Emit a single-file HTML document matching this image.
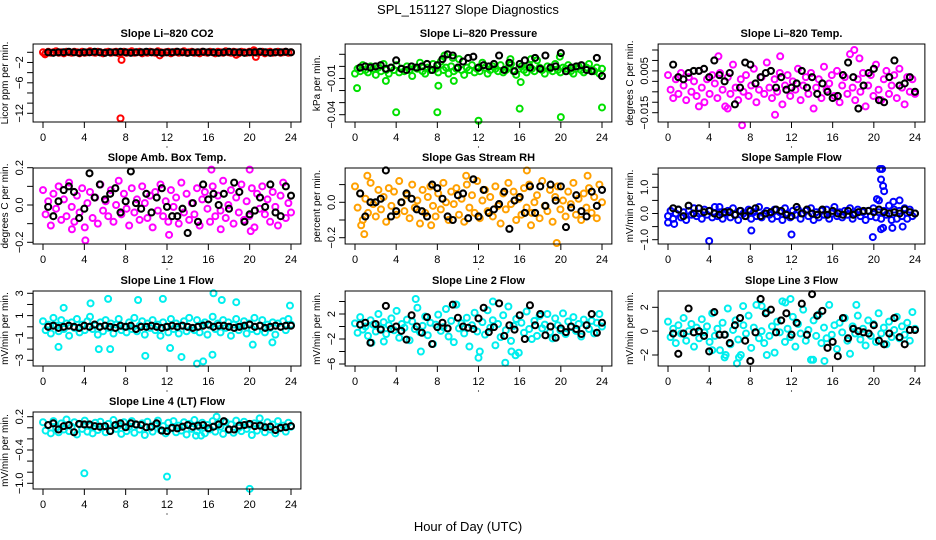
<!DOCTYPE html>
<html><head><meta charset="utf-8">
<style>
html,body{margin:0;padding:0;background:#fff;}
svg{display:block;font-family:"Liberation Sans",sans-serif;}
</style></head>
<body>
<svg id="chart" width="936" height="540" viewBox="0 0 936 540" xmlns="http://www.w3.org/2000/svg">
<rect width="936" height="540" fill="#fff"/>
<text x="468" y="14" text-anchor="middle" font-size="13">SPL_151127  Slope Diagnostics</text>
<text x="468" y="531" text-anchor="middle" font-size="13">Hour of Day (UTC)</text>
</svg>
<script>
const xTicks=[0,4,8,12,16,20,24];
const co2Vals=[0,-.2,.1,-.1,0,.2,-.1,0,-.2,.1,0,-.1,.1,0,-.2,.1,-.1,0,.2,0,-.1,.1,0,-.2,0,.1,-.1,0,.1,-.2,0,.1,-.1,0,.2,-.1,0,.1,-.2,0,-.1,.1,0,-.1,.2,0,-.1,0,.1,-.2,0,.1,-.1,0,.2,-.1,0,.1,-.1,0,-.2,.1,0,-.1,.1,0,-.2,.1,0,-.1,.2,0,-.1,.1,0,-.2,.1,0,-.1,.1,0,.3,-.1,0,.1,-.2,0,.1,-.1,0,.1,-.1,0,.1,-.1,0];
const co2Out=[[7.6,-1.5],[7.5,-13],[20.6,-0.9],[20.4,0.4],[11.3,-0.6],[18.7,-0.5],[0.2,-0.4]];
const co2Blk=[0,-.1,0,0,.1,0,-.1,0,0,.1,0,-.1,0,0,.1,0,-.1,0,0,.1,0,0,-.1,0,0,.1,0,-.1,0,0,.1,0,0,-.1,0,.1,0,0,-.1,0,0,.1,0,-.1,0,0,.1,0];
const presVals=[-.006,-.002,-.004,.001,-.003,-.005,0,-.002,-.007,-.001,-.004,.002,-.003,-.006,-.001,-.003,.001,-.005,-.002,-.004,0,-.003,-.008,-.001,-.002,.003,-.004,-.006,-.001,-.003,.002,-.002,-.005,.004,-.003,-.001,-.006,0,-.004,-.002,.006,-.003,-.007,-.001,-.003,.001,-.005,-.002,-.004,.003,-.001,-.006,-.003,0,-.002,-.004,.001,-.005,-.003,-.001,.002,-.004,-.007,-.002,0,-.003,-.005,.001,-.002,-.004,.005,-.001,-.003,-.006,0,-.002,-.004,.002,-.003,-.005,-.001,-.002,.001,-.004,-.006,-.002,0,-.003,-.005,-.001,.002,-.003,-.004,-.001,-.006,-.002];
const presOut=[[0.2,-.018],[4,-.038],[8,-.038],[12,-.045],[16,-.035],[20,-.042],[24,-.034],[8.1,-.016],[9.6,-.012],[3,-.012],[8.7,.009],[9.5,.007],[15.1,.006],[17.1,.006],[19.9,.008],[16.1,-.013]];
const presBlk=[-.001,0,-.001,0,.001,-.002,-.001,.005,-.002,-.003,0,-.001,0,.002,-.003,.001,.006,.010,.009,-.001,.004,.007,.008,-.001,.001,0,.002,.009,-.003,.003,-.004,.002,.005,-.001,.007,-.002,.009,-.001,0,.011,-.004,-.001,0,.001,-.003,-.004,.007,-.008];
const tempVals=[.003,-.004,-.008,.001,-.006,.004,-.002,-.009,.002,-.005,0,-.007,.005,-.003,-.010,.001,-.006,.003,-.001,-.008,.004,-.004,-.012,.002,-.006,.008,-.003,-.009,.001,-.005,.003,-.007,-.002,.006,-.010,-.004,.002,-.006,.009,-.003,-.008,.001,-.005,.004,-.011,-.002,.003,-.007,0,-.004,.006,-.009,-.002,.002,-.006,.004,-.013,-.003,.001,-.008,.007,-.004,-.001,.003,-.007,.005,-.010,-.002,.002,-.006,.013,-.003,-.009,.001,-.005,.004,-.012,-.002,.003,-.007,.008,-.004,-.009,.001,.005,-.006,-.002,.003,-.008,.006,-.003,-.011,.002,-.005,.001,-.006];
const tempOut=[[4.9,.012],[7.2,-.021],[18.1,.015],[10.4,-.016],[5.8,-.013],[18.6,.011],[10.9,.012],[3,-.012]];
const tempBlk=[.008,.002,.001,.004,.005,.005,.006,.002,.010,.003,0,.004,-.011,-.003,.009,.008,-.001,.002,.004,.005,-.003,.002,-.004,-.003,-.001,.005,-.003,.002,-.006,-.001,-.005,-.008,-.007,.003,.009,.002,-.013,-.002,.004,.006,-.009,-.010,.002,.010,-.002,-.001,.002,-.005];
const ambVals=[.08,-.05,.02,-.11,.06,-.02,.10,-.08,.03,-.06,.12,-.01,-.09,.05,-.04,.09,-.12,.01,.07,-.07,.04,-.10,.11,-.03,.02,-.06,.08,-.09,0,.13,-.05,.06,-.02,-.11,.09,-.04,.03,-.08,.10,.01,-.07,.05,-.12,.07,-.03,.11,-.06,.02,-.09,.08,-.01,.04,-.10,.12,-.04,.06,-.08,.01,-.05,.09,-.11,.03,.07,-.02,-.09,.10,-.06,.05,-.03,.13,-.07,0,.08,-.10,.04,-.04,.11,-.08,.02,-.06,.09,-.12,.06,-.02,.10,-.05,.03,-.09,.07,-.01,-.11,.05,.12,-.07,.01,-.04];
const ambOut=[[4.1,-.19],[16.3,.19],[20,.19],[20.1,-.14],[12.2,-.16],[2.8,-.13],[17.2,-.13]];
const ambBlk=[-.01,-.06,.02,.08,.10,.07,-.07,-.02,.17,.04,.11,.03,.06,.09,-.04,.02,.18,.01,-.02,.06,-.04,.04,.09,-.01,-.06,-.06,-.02,-.15,.01,-.09,.11,.03,.06,0,.06,-.02,.12,.07,-.09,-.05,-.03,.04,-.01,.11,-.04,-.06,.10,.05];
const rhVals=[.09,-.03,.05,-.10,.02,-.06,.11,-.01,-.08,.07,-.04,.03,-.11,.08,-.02,.06,-.07,.12,0,-.05,.04,-.09,.10,-.03,.01,-.12,.07,-.06,.03,.09,-.02,-.08,.05,-.04,.11,0,-.10,.06,-.01,.08,-.07,.02,-.11,.10,-.03,.04,-.06,.12,-.09,.01,.07,-.05,.03,-.08,.09,-.02,-.12,.05,-.04,.11,-.01,.06,-.10,.02,-.07,.08,-.03,.10,-.06,0,.04,-.09,.12,-.02,-.05,.07,-.11,.03,.09,-.04,.01,-.08,.06,-.01,.11,-.07,.02,-.10,.05,-.03,.08,-.06,.03,-.09,.10,0];
const rhOut=[[0.9,-.18],[0.6,-.13],[1.2,.15],[10.8,.15],[16.7,.18],[17.1,-.13],[19.6,-.23],[22.6,.15],[7.4,-.13]];
const rhBlk=[.05,-.08,0,0,.02,.18,-.08,-.05,0,.05,.02,-.04,-.05,-.08,.10,.08,.02,-.08,-.10,.04,.05,-.09,.13,-.08,.07,-.06,-.04,-.01,.06,-.15,.01,.03,-.06,.09,-.06,.09,-.02,.10,.01,.09,-.14,-.03,.04,-.05,-.08,.06,-.02,.07];
const flowVals=[-.1,.1,-.2,0,.15,-.15,.05,-.25,.1,-.05,.2,-.1,0,-.2,.15,-.05,.1,-.15,.25,-.1,.05,-.2,0,.1,-.15,.2,-.05,-.25,.1,0,-.1,.15,-.2,.05,-.1,.25,-.15,0,.1,-.05,-.2,.15,-.1,.05,-.25,.2,0,-.15,.1,-.05,.15,-.2,0,.1,-.1,.2,-.25,.05,-.15,.1,-.05,.15,-.2,0,.25,-.1,.05,-.15,.1,-.05,.2,-.2,0,.15,-.1,.05,-.25,.1,-.1,.2,-.15,.05,-.2,.1,-.05,.3,-.25,.15,-.2,.1,-.1,.2,-.2,.15,-.1,0];
const flowOut=[[20.3,.55],[20.5,.5],[20.6,1.7],[20.8,1.7],[20.7,1.3],[20.9,1.05],[21,.85],[20.7,-.6],[20.9,-.55],[21.9,.45],[22.5,.5],[22.8,-.5],[21.8,-.55],[0,-.35],[0.6,-.4],[4,-1.05],[8.1,-.65],[12,-.8],[19.9,-.9],[5,.25]];
const flowBlk=[.2,.15,-.1,.3,0,.2,.05,.1,0,-.05,.05,.05,-.05,.1,-.1,.1,.2,-.1,0,.05,.15,.1,-.05,-.1,.25,0,.15,0,-.05,.15,-.05,.1,0,-.05,.1,-.05,.05,.1,.1,.05,.15,.05,0,.05,0,.15,.05,0];
const l1Vals=[.5,-.3,.2,-.6,.8,.1,-.4,.6,-.2,.3,-.8,.4,-.1,.7,-.5,.2,-.3,.5,.9,-.2,.1,-.7,.4,-.4,.6,-.1,.3,-.6,.2,.7,-.3,0,-.5,.4,-.2,.8,-.4,.1,.5,-.7,.3,-.1,.6,-.3,.2,-.8,.4,0,-.5,.7,-.2,.3,-.6,.1,.5,-.4,.8,-.1,-.3,.6,-.5,.2,.4,-.7,.1,.9,-.2,.3,-.5,.6,-.1,.4,-.8,.2,.7,-.3,0,.5,-.6,.3,-.2,.8,-.4,.1,.6,-.5,.2,-.1,.4,-.7,.3,0,.5,-.3,.7,.2];
const l1Out=[[1.5,-1.8],[2,1.7],[4.6,2.1],[6.3,2.5],[9.2,2.4],[9.9,-2.6],[11.6,2.5],[12.3,-1.9],[13.4,-2.7],[14.9,-3.3],[15.5,-3.1],[16.5,3],[16.4,-2.5],[17.3,2.4],[18.7,2.2],[23.9,1.9],[5.4,-2],[6.5,-2],[20.3,-1.6],[22.2,-1.4]];
const l1Blk=[0,.1,-.1,0,.1,0,-.1,.1,0,.2,0,.1,0,-.1,.1,0,.1,-.2,0,0,.1,0,-.1,0,.1,0,.1,0,-.1,0,.1,.2,0,.1,.1,0,-.1,0,.1,.2,0,.1,-.1,0,.1,0,.1,.1];
const l2Vals=[.5,-1,1.5,-.5,0,-1.5,1,.3,-.8,2,-.3,.7,-1.2,.2,1.3,-.6,2.5,-1.8,.4,-.2,1.1,-2.2,.8,-.4,3,-.9,.1,1.6,-1.4,.6,-2.8,.3,1.9,-.7,-.1,2.8,-1.6,.9,-2.5,3.5,-.3,.5,-1.1,1.4,-3.2,.2,2.2,-.8,-4,.7,-1.3,2.6,-.2,1,-3,.4,-1.7,1.8,-.6,3.2,-2.3,.1,1.2,-4.2,.6,-1,2.4,-.4,-2,.9,-1.5,1.7,-.3,.3,2,-.9,-1.9,1.3,.2,-.6,2.1,-1.2,.8,-.1,1.5,-.7,.4,-1.6,1.1,.2,-.4,.9,-1.1,.6,2,0];
const l2Out=[[6.4,-4],[12,-5],[14.6,-5.8],[15.2,-4],[15.6,-4.6],[13.4,4],[9.8,3.5],[5.9,4.4],[2.8,-2.4],[1.6,-2.6]];
const l2Blk=[.3,.6,-2.6,.4,-.5,3.3,-.4,0,-.7,-2.1,1.8,0,-1,1.5,-2.8,-.1,.6,-.3,3.5,1.4,0,-.2,-.4,1.3,3,-.9,-.1,3.7,-1.5,.2,-.5,1.8,-2,3.4,.2,2,-1.4,0,-1.8,-.3,-.9,0,-.4,-1.2,.2,2,-1,.6];
const l3Vals=[.8,-.5,.2,-1,.5,-.2,1.1,-.8,0,.6,-1.3,.3,-.6,1,-.1,.4,-.9,1.5,-.4,.2,-1.6,.7,-.3,1.9,-1.1,.1,.9,-.7,-2,.5,-.2,1.3,-1.4,.3,2.2,-.6,0,-1,1.6,-.4,.4,-1.8,.8,-.1,2.5,-.9,.2,-.5,1.2,-1.3,.6,-.2,1.8,-.8,.1,-2.4,.9,-.4,1.4,-1,.3,-.6,2.2,-.3,.5,-1.5,.7,-.1,1.1,-.8,-1.9,.4,-.2,1.3,-.7,.2,-1.2,.9,-.4,.6,-.9,1.5,-.2,.3,-1.1,.8,-.5,.1,1.2,-.6,.4,-.3,.7,-.8,1.6,.2];
const l3Out=[[4.3,-1.6],[5.6,-2],[5.5,-2.2],[6.9,-2.2],[6.7,-2.7],[7.3,2.1],[9.1,2.1],[9.6,-2],[11.4,2.4],[11.9,2.7],[15.2,-2.5],[14.1,-2.4],[18.3,2.2]];
const l3Blk=[-.2,-1.9,-.2,1.9,-.1,0,-.4,-1.7,1.6,-.3,-.3,-1,.5,1.1,-.8,-2.5,-.1,2.7,1.5,1.8,-.1,.9,1.5,-.3,.7,2.3,-.3,3.1,1.3,1.7,-1.4,-.9,-2.1,1.1,-.6,.2,0,-.1,-.2,.5,-.8,-1.1,-.2,1.1,-.5,-1.1,.1,.1];
const l4Vals=[.1,-.05,.05,-.1,.12,0,-.08,.08,-.03,.15,-.06,.02,.1,-.12,.06,-.02,.13,-.07,.03,-.1,.09,-.04,.11,.01,-.08,.07,-.05,.14,-.02,.04,-.11,.1,-.06,.02,.12,-.09,.05,-.03,.08,-.13,.11,0,-.07,.06,.13,-.04,.03,-.1,.09,-.01,.12,-.08,.04,-.05,.1,-.12,.07,-.02,.14,-.06,.01,.09,-.1,.05,-.03,.12,-.07,.08,.02,-.11,.1,-.04,.06,-.09,.13,0,-.06,.11,-.02,.05,-.13,.08,-.05,.17,.03,-.08,.1,-.03,.06,-.1,.12,-.01,.04,-.07,.09,.02];
const l4Out=[[4,-.82],[12,-.88],[20,-1.1],[16.8,.2],[14.8,-.14],[15.3,-.14]];
const l4Blk=[.05,.08,-.03,.03,.05,-.08,.07,.06,.06,.03,.02,.03,-.06,.05,.08,.01,.08,.06,.05,.01,.02,.08,-.05,-.06,0,-.01,.02,.05,.02,.04,.05,-.01,.02,.06,.12,-.03,-.03,.04,.05,.07,.03,.04,.01,.02,-.04,0,.01,.03];

const NS="http://www.w3.org/2000/svg";
const svg=document.getElementById('chart');
const cols=[[43,291],[355,602],[668,915]];
const rows=[[44,122],[168,244],[291,366],[412,489]];
const panels=[
 {name:'co2',title:'Slope Li\u2013820 CO2',ylab:'Licor ppm per min.',c:0,r:0,col:'#ff0000',v:co2Vals,o:co2Out,b:co2Blk,y1:[0,52.3],y2:[-12,113.3],ticks:[0,-2,-4,-6,-8,-10,-12],labs:[-2,-6,-12],dec:0},
 {name:'pressure',title:'Slope Li\u2013820 Pressure',ylab:'kPa per min.',c:1,r:0,col:'#00e000',v:presVals,o:presOut,b:presBlk,y1:[.01,54.3],y2:[-.04,114.7],ticks:[.01,0,-.01,-.02,-.03,-.04],labs:[-.01,-.04],dec:2},
 {name:'temp',title:'Slope Li\u2013820 Temp.',ylab:'degrees C per min.',c:2,r:0,col:'#ff00ff',v:tempVals,o:tempOut,b:tempBlk,y1:[.015,50],y2:[-.015,112.7],ticks:[.015,.01,.005,0,-.005,-.01,-.015],labs:[.005,-.015],dec:3},
 {name:'amb-box-temp',title:'Slope Amb. Box Temp.',ylab:'degrees C per min.',c:0,r:1,col:'#ff00ff',v:ambVals,o:ambOut,b:ambBlk,y1:[.2,167.7],y2:[-.2,242.3],ticks:[.2,.1,0,-.1,-.2],labs:[.2,0,-.2],dec:1},
 {name:'gas-rh',title:'Slope Gas Stream RH',ylab:'percent per min.',c:1,r:1,col:'#ffa000',v:rhVals,o:rhOut,b:rhBlk,y1:[0,202.3],y2:[-.2,237.7],ticks:[.1,0,-.1,-.2],labs:[0,-.2],dec:1},
 {name:'sample-flow',title:'Slope Sample Flow',ylab:'mV/min per min.',c:2,r:1,col:'#0000ff',v:flowVals,o:flowOut,b:flowBlk,y1:[1,187.3],y2:[-1,239.7],ticks:[1.5,1,.5,0,-.5,-1],labs:[1,0,-1],dec:1},
 {name:'line1-flow',title:'Slope Line 1 Flow',ylab:'mV/min per min.',c:0,r:2,col:'#00eeee',v:l1Vals,o:l1Out,b:l1Blk,y1:[3,293.3],y2:[-3,360.3],ticks:[3,2,1,0,-1,-2,-3],labs:[3,1,-1,-3],dec:0},
 {name:'line2-flow',title:'Slope Line 2 Flow',ylab:'mV/min per min.',c:1,r:2,col:'#00eeee',v:l2Vals,o:l2Out,b:l2Blk,y1:[2,314],y2:[-6,364],ticks:[4,2,0,-2,-4,-6],labs:[2,-2,-6],dec:0},
 {name:'line3-flow',title:'Slope Line 3 Flow',ylab:'mV/min per min.',c:2,r:2,col:'#00eeee',v:l3Vals,o:l3Out,b:l3Blk,y1:[2,307.3],y2:[-2,355],ticks:[2,0,-2],labs:[2,0,-2],dec:0},
 {name:'line4-flow',title:'Slope Line 4 (LT) Flow',ylab:'mV/min per min.',c:0,r:3,col:'#00eeee',v:l4Vals,o:l4Out,b:l4Blk,y1:[.2,416.7],y2:[-1,483.3],ticks:[.2,0,-.2,-.4,-.6,-.8,-1],labs:[.2,-.4,-1],dec:1}
];
function el(tag,attrs,parent){const e=document.createElementNS(NS,tag);for(const k in attrs)e.setAttribute(k,attrs[k]);(parent||svg).appendChild(e);return e;}
function fmt(v,d){let s=v.toFixed(d);if(s.startsWith('-'))s='\u2212'+s.slice(1);return s;}
panels.forEach(p=>{
 const [x0,x24]=cols[p.c];const [top,bot]=rows[p.r];
 const ppu=(x24-x0)/24;
 const X=h=>x0+h*ppu;
 const Y=v=>p.y1[1]+(v-p.y1[0])*(p.y2[1]-p.y1[1])/(p.y2[0]-p.y1[0]);
 const left=X(-0.96),right=X(24.96);
 const g=el('g',{});
 
 
 const cx=(left+right)/2;
 const t=el('text',{x:cx,y:top-7,'text-anchor':'middle','font-size':'11','font-weight':'bold'},g);
 t.textContent=p.title;
 
 
 const pts=el('g',{fill:'none',stroke:p.col,'stroke-width':'2'},g);
 
 
 const n=p.v.length;
 p.v.forEach((v,i)=>{const c=el('circle',{cx:X(i*24/(n-1)),cy:Y(v),r:3},pts);
  
  });
 p.o.forEach(d=>{const c=el('circle',{cx:X(d[0]),cy:Y(d[1]),r:3},pts);
  
  });
 const bk=el('g',{fill:'none',stroke:'#000','stroke-width':'2.1'},g);
 
 
 p.b.forEach((v,i)=>{const c=el('circle',{cx:X(0.5+i*0.5),cy:Y(v),r:3},bk);
  
  });
 const box=el('rect',{x:left,y:top,width:right-left,height:bot-top,fill:'none',stroke:'#000','stroke-width':'1'},g);
 
 
 const xa=el('g',{stroke:'#000','stroke-width':'1'},g);
 
 
 el('line',{x1:X(0),x2:X(24),y1:bot,y2:bot},xa);
 xTicks.forEach(h=>{el('line',{x1:X(h),x2:X(h),y1:bot,y2:bot+6},xa);
  const tx=el('text',{x:X(h),y:bot+19,'text-anchor':'middle','font-size':'11',stroke:'none',fill:'#000'},xa);
  tx.textContent=h;
  
  });
 el('circle',{cx:X(12),cy:bot+25,r:0.6,fill:'#000',stroke:'none'},xa);
 const ya=el('g',{stroke:'#000','stroke-width':'1'},g);
 
 
 const tv=p.ticks;
 el('line',{x1:left,x2:left,y1:Y(tv[0]),y2:Y(tv[tv.length-1])},ya);
 tv.forEach(v=>el('line',{x1:left-6,x2:left,y1:Y(v),y2:Y(v)},ya));
 p.labs.forEach(v=>{const lx=left-10,ly=Y(v);
  const tx=el('text',{x:lx,y:ly,'text-anchor':'middle','font-size':'11',stroke:'none',fill:'#000',transform:`rotate(-90 ${lx} ${ly})`},ya);
  tx.textContent=fmt(v,p.dec);
  
  });
 const yl=left-25,yc=(top+bot)/2;
 const yt=el('text',{x:yl,y:yc,'text-anchor':'middle','font-size':'10',fill:'#000',transform:`rotate(-90 ${yl} ${yc})`},g);
 yt.textContent=p.ylab;
 
 
});
</script>
</body></html>
